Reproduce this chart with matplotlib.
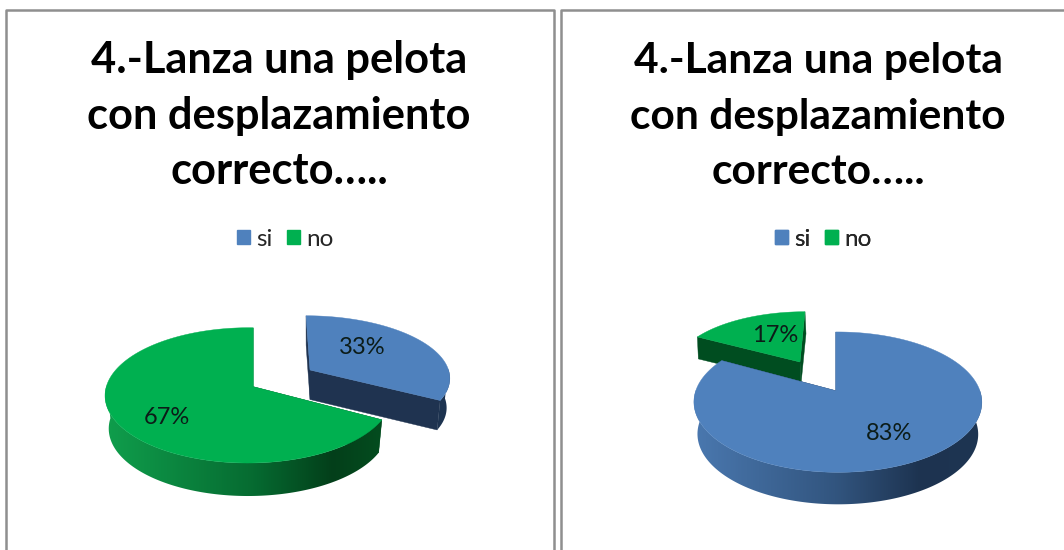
import numpy as np
import matplotlib
matplotlib.use("Agg")
import matplotlib.pyplot as plt
from matplotlib.colors import LinearSegmentedColormap
from matplotlib.patches import Patch, Polygon

title_lines = ["4.-Lanza una pelota", "con desplazamiento", "correcto….."]
series_names = ["si", "no"]
left_values = [33, 67]
right_values = [83, 17]

BLUE, GREEN = "#4f81bd", "#00b050"
DARK_BLUE, DARK_GREEN = "#1f3350", "#004d20"
blue_side = LinearSegmentedColormap.from_list("b", [(0, "#4a78af"), (.5, "#32557f"), (.8, "#1d3350"), (1, "#1e3552")])
green_side = LinearSegmentedColormap.from_list("g", [(0, "#0f9c4b"), (.5, "#066b31"), (.78, "#033f1a"), (1, "#045020")])

plt.rcParams["font.family"] = ["Lato", "DejaVu Sans"]
fig = plt.figure(figsize=(10.64, 5.5), dpi=100)
ax = fig.add_axes([0, 0, 1, 1])
ax.axis("off")


def project(theta, g):
    t = np.radians(theta)
    u, v = np.sin(t), np.cos(t)
    w = 1 + g["b"] * v + g["c"] * u
    return g["x0"] + (g["R"] * u + g["s"] * v) / w, g["y0"] - g["a"] * v / w


def draw_slice(start, end, g, face, dark, cmap):
    th = np.linspace(start, end, 400)
    x, y = project(th, g)
    bx = g["x0"] + g["k"] * (x - g["x0"]) + g["sx"]
    by = y + g["d"]
    ax0, ay0 = g["x0"], g["y0"]
    abx, aby = ax0 + g["sx"], ay0 + g["d"]
    ax.fill([ax0, x[0], bx[0], abx], [ay0, y[0], by[0], aby], color=dark, lw=0.3, zorder=g["z"])
    ax.fill([ax0, x[-1], bx[-1], abx], [ay0, y[-1], by[-1], aby], color=dark, lw=0.3, zorder=g["z"])
    # curved wall: horizontal gradient clipped to the front part of the rim
    front = np.cos(np.radians(th)) <= 0.02
    if front.any():
        xf, yf, bxf, byf = x[front], y[front], bx[front], by[front]
        poly = Polygon(np.c_[np.r_[xf, bxf[::-1]], np.r_[yf, byf[::-1]]], closed=True,
                       fc="none", ec="none", transform=ax.transData)
        ax.add_patch(poly)
        xmin, xmax = g["x0"] - 1.2 * g["R"], g["x0"] + 1.2 * g["R"]
        if g["grad"]:
            grad = np.clip(np.linspace(-0.1, 1.1, 600), 0, 1)[None, :]
        else:
            grad = np.full((1, 2), 0.8)
        im = ax.imshow(grad, cmap=cmap, vmin=0, vmax=1, aspect="auto", interpolation="bilinear",
                       extent=(xmin, xmax, g["y0"] + 200, g["y0"] - 200), zorder=g["z"])
        im.set_clip_path(poly)
    ax.fill(np.r_[ax0, x], np.r_[ay0, y], color=face, lw=0.3, zorder=g["z"] + 0.5)


geo = {
    "L_si": dict(x0=310, y0=370, a=60, b=.106, c=0, R=138.5, s=-4.4, k=.977, sx=0, d=29.5, z=2, grad=False),
    "L_no": dict(x0=253.3, y0=386.7, a=66.5, b=.128, c=.034, R=142, s=0, k=.975, sx=0, d=33, z=3, grad=True),
    "R_si": dict(x0=835.7, y0=390.7, a=68.3, b=.163, c=-.015, R=142, s=0, k=.975, sx=0, d=32, z=3, grad=True),
    "R_no": dict(x0=800, y0=362, a=53.8, b=.07, c=0, R=124, s=5.35, k=1, sx=1, d=22, z=2, grad=False),
}

a = left_values[0] * 3.6
draw_slice(0, a, geo["L_si"], BLUE, DARK_BLUE, blue_side)
draw_slice(a, 360, geo["L_no"], GREEN, DARK_GREEN, green_side)
a = right_values[0] * 3.6
draw_slice(0, a, geo["R_si"], BLUE, DARK_BLUE, blue_side)
draw_slice(a, 360, geo["R_no"], GREEN, DARK_GREEN, green_side)

ax.set_xlim(0, 1064)
ax.set_ylim(550, 0)

label_pos = [((362, 347), (167, 417)), ((889, 433), (775, 335))]
for vals, pos in zip([left_values, right_values], label_pos):
    for v, (px, py) in zip(vals, pos):
        ax.text(px, py, f"{v}%", ha="center", va="center", fontsize=17, color="#0c1c18", zorder=6)

# panel frames
frame = dict(color="#8f8f8f", lw=1.8, solid_capstyle="butt", zorder=7)
ax.plot([6, 6, 553.5, 553.5], [550, 10, 10, 550], **frame)
ax.plot([561, 561, 1064], [550, 10, 10], **frame)

# titles
for cx, size in ((279, 31.2), (818, 30.6)):
    for line, by in zip(title_lines, (73.5, 128.5, 184.5)):
        ax.text(cx, by, line, ha="center", va="baseline", fontsize=size, fontweight="bold", color="black", zorder=8)

# legends
handles = [Patch(color=BLUE, label=series_names[0]), Patch(color=GREEN, label=series_names[1])]
for cx in (285, 823.5):
    leg = ax.legend(handles=handles, ncol=2, loc="center", bbox_to_anchor=(cx, 239),
                    bbox_transform=ax.transData, frameon=False, fontsize=17.5,
                    handlelength=0.53, handleheight=0.55, handletextpad=0.25,
                    columnspacing=0.6, borderpad=0, labelcolor="#262626")
    ax.add_artist(leg)

fig.savefig("out.png", dpi=100)
